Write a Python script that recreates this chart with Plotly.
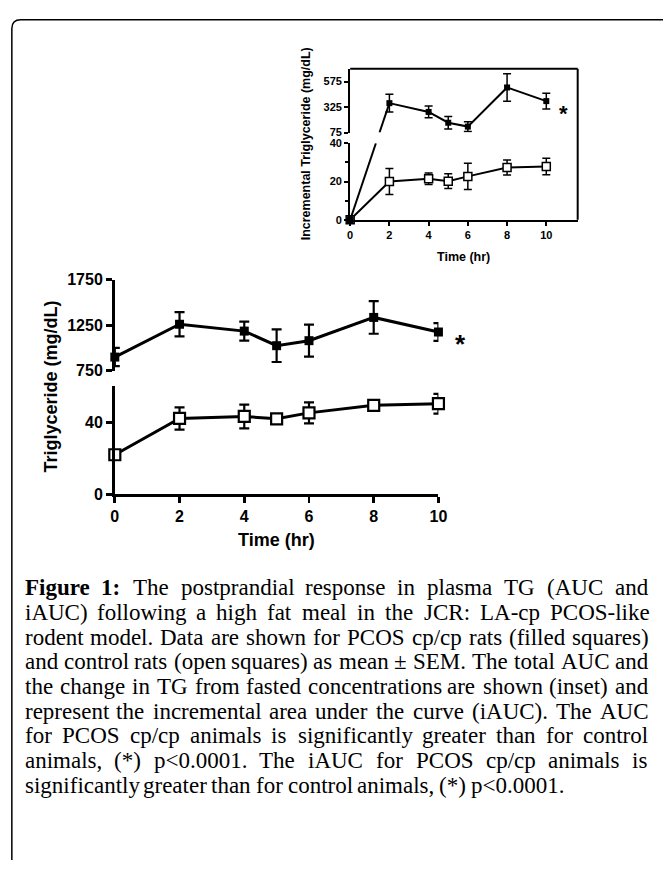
import plotly.graph_objects as go

# ---------------- data ----------------
time_hr = [0, 2, 4, 5, 6, 8, 10]

# main panel: total triglyceride (mg/dL)
pcos_tg = [900, 1260, 1185, 1025, 1080, 1335, 1175]
pcos_tg_sem = [100, 133, 104, 179, 175, 179, 97]
ctrl_tg = [22, 42.2, 43.3, 42, 45.3, 49.5, 50.4]
ctrl_tg_sem = [1.5, 6.2, 6.6, 1.5, 5.8, 1.5, 5.5]

# inset: incremental triglyceride (mg/dL)
pcos_inc = [0, 363, 277, 171, 133, 517, 383]
pcos_inc_sem = [0, 87, 58, 62, 48, 135, 77]
ctrl_inc = [0, 20, 21.5, 20.2, 22.7, 27.3, 27.9]
ctrl_inc_sem = [0, 6.8, 3, 3.9, 6.8, 3.9, 4.3]

x_ticks = [0, 2, 4, 6, 8, 10]
main_low_ticks = [0, 40]
main_up_ticks = [750, 1250, 1750]
ins_low_ticks = [0, 20, 40]
ins_low_minor = [10, 30]
ins_up_ticks = [75, 325, 575]

caption_lines = [
    [("Figure", True), ("1:", True), ("The", False), ("postprandial", False), ("response", False),
     ("in", False), ("plasma", False), ("TG", False), ("(AUC", False), ("and", False)],
    "iAUC) following a high fat meal in the JCR: LA-cp PCOS-like",
    "rodent model. Data are shown for PCOS cp/cp rats (filled squares)",
    "and control rats (open squares) as mean \u00b1 SEM. The total AUC and",
    "the change in TG from fasted concentrations are shown (inset) and",
    "represent the incremental area under the curve (iAUC). The AUC",
    "for PCOS cp/cp animals is significantly greater than for control",
    "animals, (*) p<0.0001. The iAUC for PCOS cp/cp animals is",
    "significantly greater than for control animals, (*) p<0.0001.",
]

# ---------------- geometry ----------------
W, H = 672, 869


def fx(p):
    return p / W


def fy(p):
    return 1 - p / H


MAIN_X_PX = (113, 443)
MAIN_LOW_PX = (496, 386)
MAIN_UP_PX = (370, 277)
INS_X_PX = (353, 585)
INS_LOW_PX = (216, 138)
INS_UP_PX = (127, 62)

MAIN_X_RANGE = [0, 10]
MAIN_LOW_RANGE = [0, 60]
MAIN_UP_RANGE = [750, 1750]
INS_X_RANGE = [0, 11.6]
INS_LOW_RANGE = [0, 40]
INS_UP_RANGE = [75, 700]


def ypix(v, rng, pxs):
    return pxs[0] + (v - rng[0]) / (rng[1] - rng[0]) * (pxs[1] - pxs[0])


# straight connector across the inset axis break (0 h -> 2 h of PCOS series)
pA = ypix(pcos_inc[0], INS_LOW_RANGE, INS_LOW_PX)
pB = ypix(pcos_inc[1], INS_UP_RANGE, INS_UP_PX)
t_low = (INS_LOW_PX[1] - pA) / (pB - pA)
t_up = (INS_UP_PX[0] - pA) / (pB - pA)
x_low = time_hr[0] + t_low * (time_hr[1] - time_hr[0])
x_up = time_hr[0] + t_up * (time_hr[1] - time_hr[0])

BLACK = "black"
FONT = "Liberation Sans"

fig = go.Figure()

# ---- main panel ----
fig.add_trace(go.Scatter(
    x=time_hr, y=ctrl_tg, xaxis="x", yaxis="y", mode="lines+markers",
    line=dict(color=BLACK, width=3),
    marker=dict(symbol="square", size=11, color="white", line=dict(color=BLACK, width=2.2)),
    error_y=dict(type="data", array=ctrl_tg_sem, color=BLACK, thickness=2.2, width=5),
    cliponaxis=False, hoverinfo="skip"))
fig.add_trace(go.Scatter(
    x=time_hr, y=pcos_tg, xaxis="x2", yaxis="y2", mode="lines+markers",
    line=dict(color=BLACK, width=3),
    marker=dict(symbol="square", size=9, color=BLACK),
    error_y=dict(type="data", array=pcos_tg_sem, color=BLACK, thickness=2.2, width=5),
    cliponaxis=False, hoverinfo="skip"))

# ---- inset ----
fig.add_trace(go.Scatter(
    x=time_hr, y=ctrl_inc, xaxis="x3", yaxis="y3", mode="lines+markers",
    line=dict(color=BLACK, width=2),
    marker=dict(symbol="square", size=8, color="white", line=dict(color=BLACK, width=1.5)),
    error_y=dict(type="data", array=ctrl_inc_sem, color=BLACK, thickness=1.5, width=4),
    cliponaxis=False, hoverinfo="skip"))
fig.add_trace(go.Scatter(
    x=[time_hr[0], x_low], y=[pcos_inc[0], INS_LOW_RANGE[1]], xaxis="x3", yaxis="y3",
    mode="lines", line=dict(color=BLACK, width=2), hoverinfo="skip"))
fig.add_trace(go.Scatter(
    x=time_hr[:1], y=pcos_inc[:1], xaxis="x3", yaxis="y3", mode="markers",
    marker=dict(symbol="square", size=7, color=BLACK), cliponaxis=False, hoverinfo="skip"))
fig.add_trace(go.Scatter(
    x=[x_up, time_hr[1]], y=[INS_UP_RANGE[0], pcos_inc[1]], xaxis="x4", yaxis="y4",
    mode="lines", line=dict(color=BLACK, width=2), hoverinfo="skip"))
fig.add_trace(go.Scatter(
    x=time_hr[1:], y=pcos_inc[1:], xaxis="x4", yaxis="y4", mode="lines+markers",
    line=dict(color=BLACK, width=2),
    marker=dict(symbol="square", size=6, color=BLACK),
    error_y=dict(type="data", array=pcos_inc_sem[1:], color=BLACK, thickness=1.5, width=4),
    cliponaxis=False, hoverinfo="skip"))


def ax_common(lw, tl, fs):
    return dict(showline=True, linecolor=BLACK, linewidth=lw, ticks="outside", ticklen=tl,
                tickwidth=lw, tickcolor=BLACK, showgrid=False, zeroline=False,
                tickfont=dict(family=FONT, size=fs, color=BLACK, weight="bold"))


hidden = dict(visible=False, showgrid=False, zeroline=False)

fig.update_layout(
    width=W, height=H, margin=dict(l=0, r=0, t=0, b=0),
    paper_bgcolor="white", plot_bgcolor="rgba(0,0,0,0)", showlegend=False,
    hovermode=False,
    xaxis=dict(domain=[fx(MAIN_X_PX[0]), fx(MAIN_X_PX[1])], range=MAIN_X_RANGE, anchor="y",
               tickvals=x_ticks, **ax_common(2.8, 6, 16)),
    yaxis=dict(domain=[fy(MAIN_LOW_PX[0]), fy(MAIN_LOW_PX[1])], range=MAIN_LOW_RANGE, anchor="x",
               tickvals=main_low_ticks, **ax_common(2.8, 6, 16)),
    xaxis2=dict(domain=[fx(MAIN_X_PX[0]), fx(MAIN_X_PX[1])], range=MAIN_X_RANGE, anchor="y2",
                matches="x", **hidden),
    yaxis2=dict(domain=[fy(MAIN_UP_PX[0]), fy(MAIN_UP_PX[1])], range=MAIN_UP_RANGE, anchor="x2",
                tickvals=main_up_ticks, **ax_common(2.8, 6, 16)),
    xaxis3=dict(domain=[fx(INS_X_PX[0]), fx(INS_X_PX[1])], range=INS_X_RANGE, anchor="y3",
                tickvals=x_ticks, **ax_common(2, 4, 11)),
    yaxis3=dict(domain=[fy(INS_LOW_PX[0]), fy(INS_LOW_PX[1])], range=INS_LOW_RANGE, anchor="x3",
                tickvals=ins_low_ticks,
                minor=dict(tickvals=ins_low_minor, ticks="outside", ticklen=3, tickwidth=2,
                           tickcolor=BLACK),
                **ax_common(2, 4, 11)),
    xaxis4=dict(domain=[fx(INS_X_PX[0]), fx(INS_X_PX[1])], range=INS_X_RANGE, anchor="y4",
                matches="x3", **hidden),
    yaxis4=dict(domain=[fy(INS_UP_PX[0]), fy(INS_UP_PX[1])], range=INS_UP_RANGE, anchor="x4",
                tickvals=ins_up_ticks, **ax_common(2, 4, 11)),
)

# ---- shapes: inset box and page frame ----
shapes = [
    dict(type="line", xref="paper", yref="paper", x0=fx(INS_X_PX[0]), x1=fx(INS_X_PX[1]),
         y0=fy(INS_UP_PX[1]), y1=fy(INS_UP_PX[1]), line=dict(color=BLACK, width=2)),
    dict(type="line", xref="paper", yref="paper", x0=fx(INS_X_PX[1]), x1=fx(INS_X_PX[1]),
         y0=fy(INS_UP_PX[1]), y1=fy(INS_LOW_PX[0]), line=dict(color=BLACK, width=2)),
]
fl, ft, rad = 8, 12, 9
frame_path = (f"M {fx(fl)},{fy(H)} L {fx(fl)},{fy(ft + rad)} "
              f"Q {fx(fl)},{fy(ft)} {fx(fl + rad)},{fy(ft)} L {fx(W)},{fy(ft)}")
shapes.append(dict(type="path", xref="paper", yref="paper", path=frame_path,
                   line=dict(color=BLACK, width=1.5)))
fig.update_layout(shapes=shapes)

# ---- annotations: axis titles, asterisks ----
ann = []


def add_text(txt, xp, yp, size, family=FONT, bold=True, angle=0, xanchor="center", yanchor="middle"):
    ann.append(dict(text=txt, x=fx(xp), y=fy(yp), xref="paper", yref="paper", showarrow=False,
                    textangle=angle, xanchor=xanchor, yanchor=yanchor, borderpad=0,
                    font=dict(family=family, size=size, color=BLACK,
                              weight="bold" if bold else "normal")))


add_text("Triglyceride (mg/dL)", 48, 386, 18, angle=-90)
add_text("Time (hr)", (MAIN_X_PX[0] + MAIN_X_PX[1]) / 2, 543, 18)
add_text("*", 465, 343, 26)
add_text("Incremental Triglyceride (mg/dL)", 308, 139, 12.5, angle=-90)
add_text("Time (hr)", (INS_X_PX[0] + INS_X_PX[1]) / 2, 254, 12.5)
add_text("*", 571, 108, 22)

# ---- caption with justified word placement (Times metrics) ----
TIMES = {' ': 250, '!': 333, '(': 333, ')': 333, '*': 500, '+': 564, ',': 250, '-': 333, '.': 250,
         '/': 278, ':': 278, ';': 278, '<': 564, '=': 564, '>': 564, '?': 444, '\u00b1': 564,
         'A': 722, 'B': 667, 'C': 667, 'D': 722, 'E': 611, 'F': 556, 'G': 722, 'H': 722, 'I': 333,
         'J': 389, 'K': 722, 'L': 611, 'M': 889, 'N': 722, 'O': 722, 'P': 556, 'Q': 722, 'R': 667,
         'S': 556, 'T': 611, 'U': 722, 'V': 722, 'W': 944, 'X': 722, 'Y': 722, 'Z': 611,
         'a': 444, 'b': 500, 'c': 444, 'd': 500, 'e': 444, 'f': 333, 'g': 500, 'h': 500, 'i': 278,
         'j': 278, 'k': 500, 'l': 278, 'm': 778, 'n': 500, 'o': 500, 'p': 500, 'q': 500, 'r': 333,
         's': 389, 't': 278, 'u': 500, 'v': 500, 'w': 722, 'x': 500, 'y': 500, 'z': 444}
TIMES_B = {'F': 611, 'i': 278, 'g': 500, 'u': 556, 'r': 444, 'e': 444, '1': 500, ':': 333, ' ': 250}


def wwidth(word, size, bold):
    tbl = TIMES_B if bold else TIMES
    return sum(tbl.get(c, TIMES.get(c, 500)) for c in word) * size / 1000


CAP_SIZE = 23
CAP_LEFT, CAP_RIGHT = 20, 655
BASE0, LEAD = 599, 25.2
SERIF = "Liberation Serif"

for i, line in enumerate(caption_lines):
    words = line if isinstance(line, list) else [(w, False) for w in line.split(" ")]
    widths = [wwidth(w, CAP_SIZE, b) for w, b in words]
    last = i == len(caption_lines) - 1
    if last or len(words) < 2:
        gap = TIMES[' '] * CAP_SIZE / 1000
    else:
        gap = (CAP_RIGHT - CAP_LEFT - sum(widths)) / (len(words) - 1)
    xcur = CAP_LEFT
    ycen = BASE0 + i * LEAD - 0.3375 * CAP_SIZE
    for (w, b), wd in zip(words, widths):
        add_text(w.replace("<", "&lt;"), xcur, ycen, CAP_SIZE, family=SERIF, bold=b,
                 xanchor="left")
        xcur += wd + gap

fig.update_layout(annotations=ann)

fig.write_html(
    "out.html",
    config={"displayModeBar": False, "staticPlot": True},
    post_script="document.body.style.margin='0';document.body.style.overflow='hidden';",
)
